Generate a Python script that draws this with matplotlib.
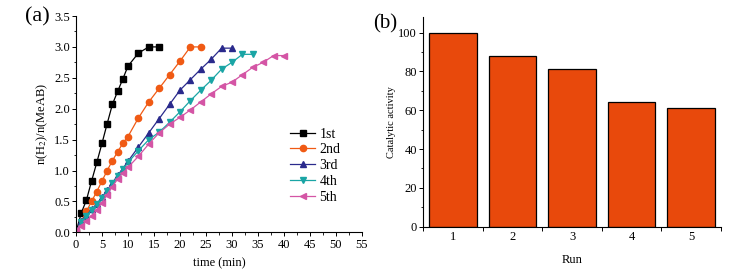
import matplotlib.pyplot as plt
from matplotlib.ticker import MultipleLocator, FixedLocator

plt.rcParams['font.family'] = 'Liberation Serif'
plt.rcParams['mathtext.fontset'] = 'stix'

# (a) H2 evolution for 5 runs
t1 = [0, 1, 2, 3, 4, 5, 6, 7, 8, 9, 10, 12, 14, 16]
y1 = [0, 0.31, 0.52, 0.83, 1.13, 1.44, 1.76, 2.07, 2.28, 2.48, 2.69, 2.90, 3.0, 3.0]
t2 = [0, 2, 3, 4, 5, 6, 7, 8, 9, 10, 12, 14, 16, 18, 20, 22, 24]
y2 = [0, 0.34, 0.50, 0.66, 0.83, 1.0, 1.16, 1.30, 1.44, 1.55, 1.85, 2.11, 2.33, 2.55, 2.77, 3.0, 3.0]
t3 = [0, 1, 2, 3, 4, 5, 6, 7, 8, 9, 10, 12, 14, 16, 18, 20, 22, 24, 26, 28, 30]
y3 = [0, 0.19, 0.27, 0.37, 0.46, 0.57, 0.68, 0.80, 0.92, 1.03, 1.15, 1.38, 1.61, 1.84, 2.07, 2.30, 2.47, 2.64, 2.80, 2.98, 2.98]
t4 = [0, 1, 2, 3, 4, 5, 6, 7, 8, 9, 10, 12, 14, 16, 18, 20, 22, 24, 26, 28, 30, 32, 34]
y4 = [0, 0.17, 0.27, 0.36, 0.45, 0.56, 0.67, 0.79, 0.91, 1.02, 1.13, 1.32, 1.50, 1.62, 1.78, 1.95, 2.13, 2.30, 2.46, 2.64, 2.75, 2.88, 2.88]
t5 = [0, 1, 2, 3, 4, 5, 6, 7, 8, 9, 10, 12, 14, 16, 18, 20, 22, 24, 26, 28, 30, 32, 34, 36, 38, 40]
y5 = [0.04, 0.10, 0.18, 0.27, 0.36, 0.48, 0.61, 0.74, 0.86, 0.96, 1.05, 1.23, 1.43, 1.61, 1.75, 1.86, 1.98, 2.11, 2.24, 2.36, 2.43, 2.55, 2.67, 2.75, 2.86, 2.86]
labels = ['1st', '2nd', '3rd', '4th', '5th']

# (b) catalytic activity
runs = [1, 2, 3, 4, 5]
activity = [100, 88, 81, 64, 61]

fig = plt.figure(figsize=(7.51, 2.78), dpi=100)
ax1 = fig.add_axes([0.1012, 0.1644, 0.3808, 0.778])
ax2 = fig.add_axes([0.5637, 0.1845, 0.396, 0.7543])

series = [(t1, y1, 's', 'black'), (t2, y2, 'o', '#F05A14'), (t3, y3, '^', '#2A2A8C'),
          (t4, y4, 'v', '#1AA5A5'), (t5, y5, '<', '#D455A5')]
for (t, y, m, c), lab in zip(series, labels):
    ax1.plot(t, y, marker=m, color=c, lw=0.9, ms=4.5, label=lab)

ax1.set_xlim(0, 55)
ax1.set_ylim(0, 3.5)
ax1.xaxis.set_major_locator(MultipleLocator(5))
ax1.xaxis.set_minor_locator(MultipleLocator(2.5))
ax1.yaxis.set_major_locator(MultipleLocator(0.5))
ax1.yaxis.set_minor_locator(MultipleLocator(0.25))
ax1.set_xlabel('time (min)', fontsize=9, labelpad=5)
ax1.set_ylabel('n(H$_2$)/n(MeAB)', fontsize=9, labelpad=3)
ax1.legend(loc='upper left', bbox_to_anchor=(0.73, 0.51), frameon=False, fontsize=10,
           handlelength=1.8, handletextpad=0.3, labelspacing=0.2, borderaxespad=0)

ax2.bar(runs, activity, width=0.8, color='#E8490C', edgecolor='black', lw=0.9)
ax2.set_xlim(0.5, 5.5)
ax2.set_ylim(0, 108)
ax2.xaxis.set_major_locator(FixedLocator([0.5, 1.5, 2.5, 3.5, 4.5, 5.5]))
ax2.xaxis.set_major_formatter(plt.NullFormatter())
ax2.set_xticks(runs, [str(r) for r in runs], minor=True)
ax2.yaxis.set_major_locator(MultipleLocator(20))
ax2.yaxis.set_minor_locator(MultipleLocator(10))
ax2.set_xlabel('Run', fontsize=9, labelpad=8)
ax2.set_ylabel('Catalytic activity', fontsize=7.5, labelpad=2)

for ax in (ax1, ax2):
    for s in ('top', 'right'):
        ax.spines[s].set_visible(False)
    ax.spines['left'].set_linewidth(0.8)
    ax.spines['bottom'].set_linewidth(0.8)
    ax.tick_params(which='major', direction='out', length=3, width=0.7, labelsize=9, pad=1.5)
    ax.tick_params(which='minor', direction='out', length=1.8, width=0.6)
ax2.tick_params(axis='x', which='minor', length=0, pad=3, labelsize=9)

fig.text(0.05, 0.94, '(a)', fontsize=16, ha='center', va='center')
fig.text(0.513, 0.915, '(b)', fontsize=15, ha='center', va='center')

fig.savefig('out.png', dpi=100)
